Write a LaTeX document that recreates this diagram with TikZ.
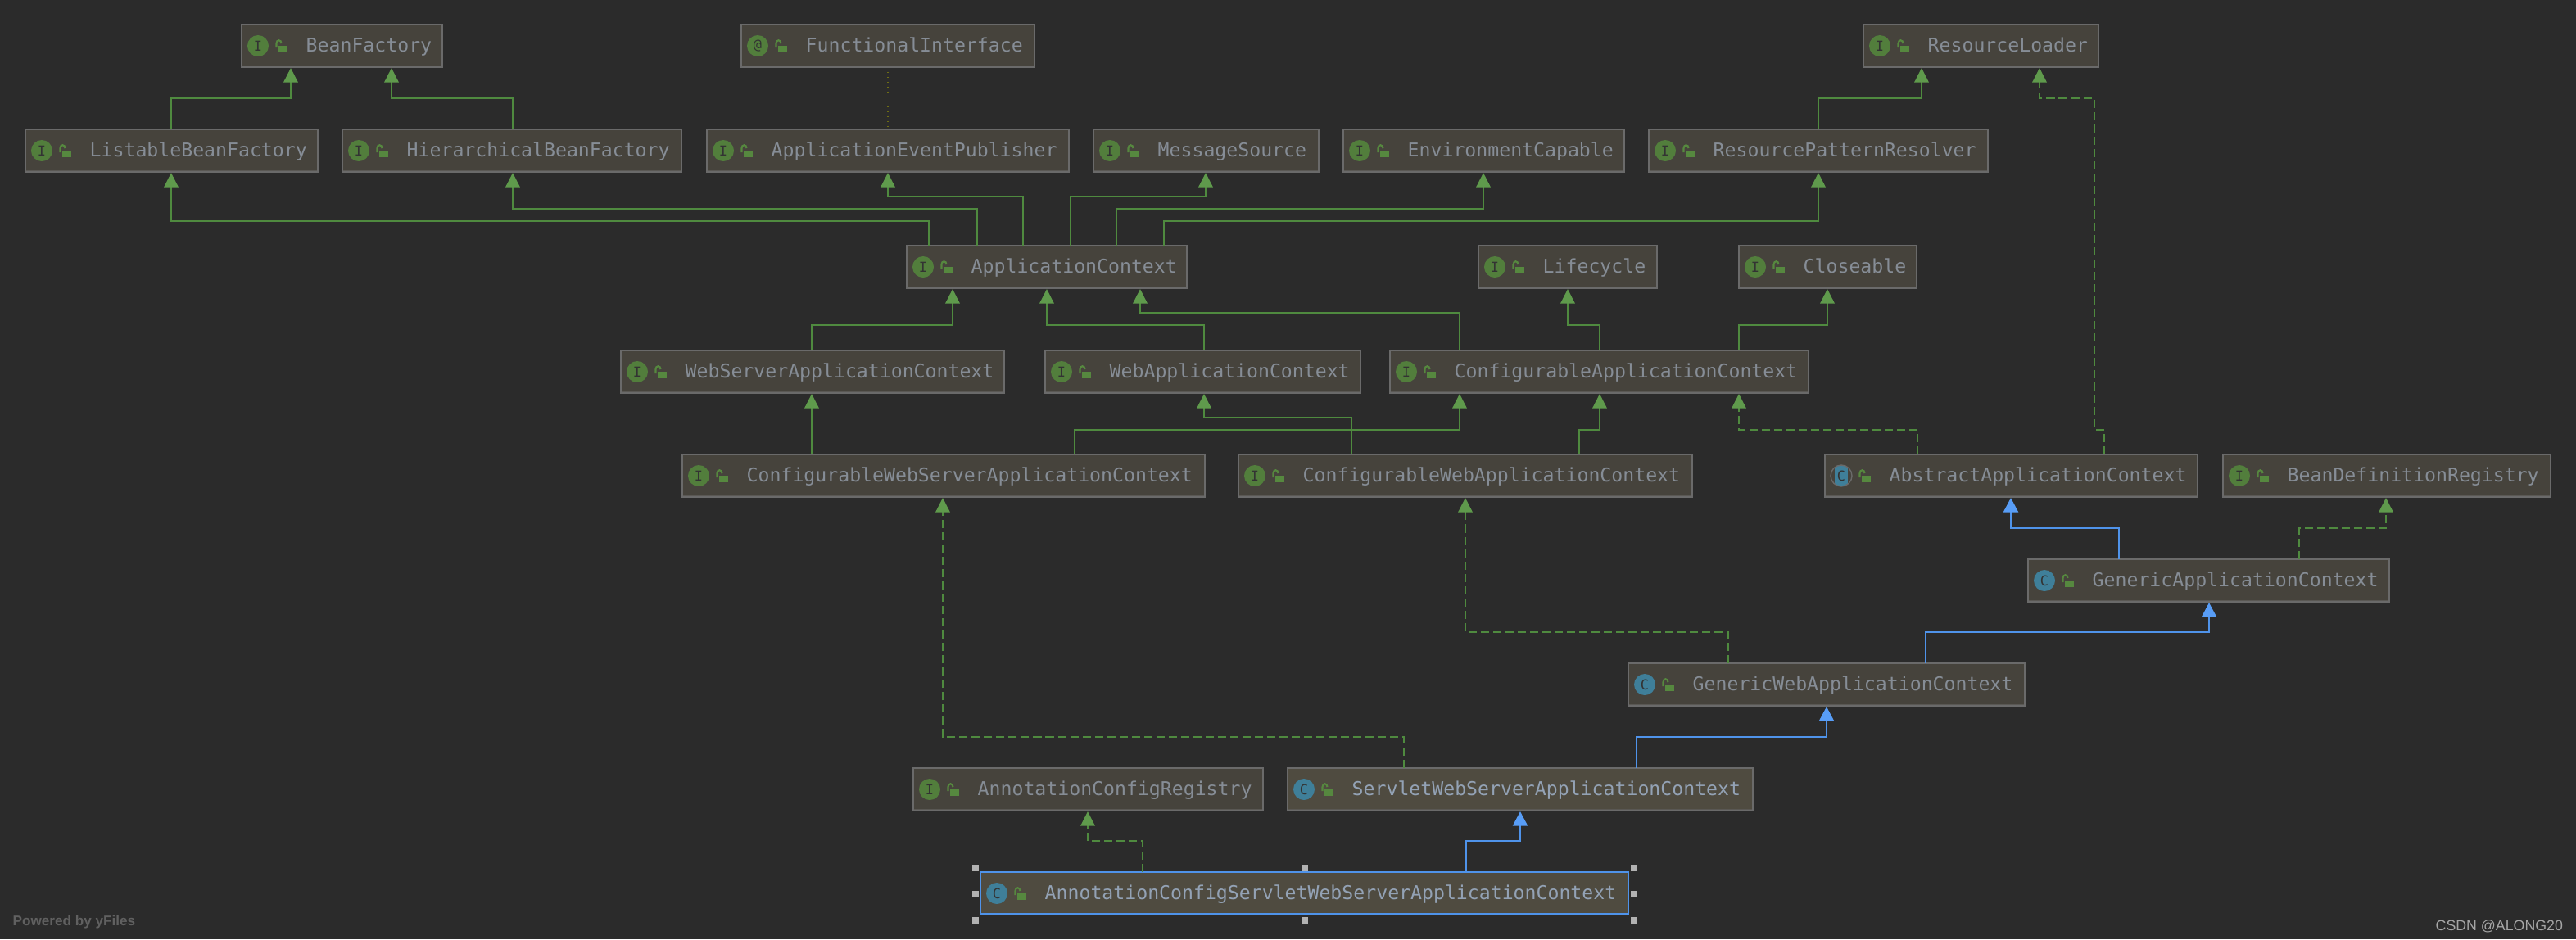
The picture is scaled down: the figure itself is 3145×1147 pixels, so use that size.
\documentclass[tikz,border=0pt]{standalone}
\usepackage{fontspec}
\setmonofont{DejaVu Sans Mono}
\setsansfont{Liberation Sans}
\usetikzlibrary{arrows.meta}

\definecolor{canvas}{HTML}{2B2B2B}
\definecolor{boxfill}{HTML}{46433C}
\definecolor{boxfilllit}{HTML}{4F4B40}
\definecolor{boxline}{HTML}{6A6A6A}
\definecolor{boxstrip}{HTML}{5A5854}
\definecolor{labelgray}{HTML}{868D96}
\definecolor{labellit}{HTML}{93A2B5}
\definecolor{ifacegreen}{HTML}{527E3C}
\definecolor{classteal}{HTML}{3F7F99}
\definecolor{lockgreen}{HTML}{56883F}
\definecolor{edgegreen}{HTML}{4F8A3F}
\definecolor{tipgreen}{HTML}{5F9A4C}
\definecolor{edgeblue}{HTML}{4F93EA}
\definecolor{tipblue}{HTML}{589DF6}
\definecolor{dotolive}{HTML}{6E6E14}

\tikzset{
    % boxes
    plainbox/.style={draw=boxline, fill=boxfill, line width=0.5pt, anchor=north west, outer sep=0pt,
        inner sep=0pt, minimum height=0.52cm, stripline=boxstrip},
    litbox/.style={plainbox, fill=boxfilllit},
    selbox/.style={plainbox, fill=boxfilllit, draw=edgeblue, line width=0.4pt, stripline=edgeblue},
    stripline/.style={path picture={
        \fill[#1] ([yshift=0.6pt]path picture bounding box.south west)
            rectangle (path picture bounding box.south east);}},
    plainlabel/.style={anchor=base west, inner sep=0pt, text=labelgray,
        font=\fontsize{6.59}{8}\selectfont\ttfamily},
    litlabel/.style={plainlabel, text=labellit},
    sellabel/.style={litlabel},
    % icons
    iconbase/.style={circle, minimum size=0.26cm, inner sep=0pt, text=black!80,
        font=\fontsize{4.8}{5}\selectfont\ttfamily},
    ifaceicon/.style={iconbase, fill=ifacegreen},
    classicon/.style={iconbase, fill=classteal},
    abstracticon/.style={iconbase, draw=boxline, fill=boxfill, path picture={
        \fill[classteal] ([xshift=-2.2pt]path picture bounding box.south)
            rectangle ([xshift=2.2pt]path picture bounding box.north);}},
    % connectors
    extends/.style={draw=edgegreen, line width=0.5pt, shorten >=0.3pt,
        -{Triangle[length=5pt, width=5pt, color=tipgreen, fill=tipgreen]}},
    implements/.style={extends, dash pattern=on 2.85pt off 1.42pt},
    bluelink/.style={draw=edgeblue, line width=0.5pt, shorten >=0.3pt,
        -{Triangle[length=5pt, width=5.2pt, color=tipblue, fill=tipblue]}},
    annotated/.style={draw=dotolive, line width=0.4pt, dash pattern=on 0.4pt off 1.3pt},
    handle/.style={fill=gray!60!white, minimum size=0.08cm, inner sep=0pt},
}

% look, name, left, top, width, icon style, icon letter, label
\newcommand{\typenode}[8][plain]{
    \begin{scope}[shift={(#3,#4)}]
        \node[#1box, minimum width=#5*0.01cm] (#2) at (0,0) {};
        \node[#6] (#2-icon) at (20,26) {#7};
        \fill[lockgreen] (45,25.5) rectangle (56,33.5);
        \draw[lockgreen, line width=0.6pt] (42.5,28) -- (42.5,23)
            .. controls (42.5,18) and (48.5,18) .. (48.5,23);
        \node[#1label] (#2-label) at (78,33) {#8};
    \end{scope}
}

\begin{document}
\begin{tikzpicture}[x=0.01cm, y=-0.01cm]
    \fill[canvas] (0,0) rectangle (3145,1147);
    \useasboundingbox (0,0) rectangle (3145,1147);

    % Top row
    \typenode{bf}{295}{30}{245}{ifaceicon}{I}{BeanFactory}
    \typenode{fi}{905}{30}{358}{ifaceicon}{@}{FunctionalInterface}
    \typenode{rl}{2275}{30}{287}{ifaceicon}{I}{ResourceLoader}

    % Second row
    \typenode{lbf}{31}{158}{357}{ifaceicon}{I}{ListableBeanFactory}
    \typenode{hbf}{418}{158}{414}{ifaceicon}{I}{HierarchicalBeanFactory}
    \typenode{aep}{863}{158}{442}{ifaceicon}{I}{ApplicationEventPublisher}
    \typenode{ms}{1335}{158}{275}{ifaceicon}{I}{MessageSource}
    \typenode{ec}{1640}{158}{343}{ifaceicon}{I}{EnvironmentCapable}
    \typenode{rpr}{2013}{158}{414}{ifaceicon}{I}{ResourcePatternResolver}

    % ApplicationContext row
    \typenode{ac}{1107}{300}{342}{ifaceicon}{I}{ApplicationContext}
    \typenode{lc}{1805}{300}{218}{ifaceicon}{I}{Lifecycle}
    \typenode{cl}{2123}{300}{217}{ifaceicon}{I}{Closeable}

    % Fourth row
    \typenode{wsac}{758}{428}{468}{ifaceicon}{I}{WebServerApplicationContext}
    \typenode{wac}{1276}{428}{385}{ifaceicon}{I}{WebApplicationContext}
    \typenode{cac}{1697}{428}{511}{ifaceicon}{I}{ConfigurableApplicationContext}

    % Fifth row
    \typenode{cwsac}{833}{555}{638}{ifaceicon}{I}{ConfigurableWebServerApplicationContext}
    \typenode{cwac}{1512}{555}{554}{ifaceicon}{I}{ConfigurableWebApplicationContext}
    \typenode{aac}{2228}{555}{455}{abstracticon}{C}{AbstractApplicationContext}
    \typenode{bdr}{2714}{555}{400}{ifaceicon}{I}{BeanDefinitionRegistry}

    % Lower classes
    \typenode{gac}{2476}{683}{441}{classicon}{C}{GenericApplicationContext}
    \typenode{gwac}{1988}{810}{484}{classicon}{C}{GenericWebApplicationContext}
    \typenode{acr}{1115}{938}{427}{ifaceicon}{I}{AnnotationConfigRegistry}
    \typenode[lit]{swsac}{1572}{938}{568}{classicon}{C}{ServletWebServerApplicationContext}
    \typenode[sel]{acswsac}{1197}{1065}{791}{classicon}{C}{AnnotationConfigServletWebServerApplicationContext}

    % Interface inheritance, top part
    \draw[extends] (lbf.north -| 209,0) |- (355,120) -- (bf.south -| 355,0);
    \draw[extends] (hbf.north -| 626,0) |- (478,120) -- (bf.south -| 478,0);
    \draw[extends] (rpr.north -| 2220,0) |- (2346,120) -- (rl.south -| 2346,0);
    \draw[annotated] ([yshift=-0.06cm]fi.south) -- ([yshift=0.03cm]aep.north);

    % ApplicationContext parents
    \draw[extends] (ac.north -| 1134,0) |- (209,270) -- (lbf.south -| 209,0);
    \draw[extends] (ac.north -| 1193,0) |- (626,255) -- (hbf.south -| 626,0);
    \draw[extends] (ac.north -| 1249,0) |- (1084,240) -- (aep.south -| 1084,0);
    \draw[extends] (ac.north -| 1307,0) |- (1472,240) -- (ms.south -| 1472,0);
    \draw[extends] (ac.north -| 1363,0) |- (1811,255) -- (ec.south -| 1811,0);
    \draw[extends] (ac.north -| 1421,0) |- (2220,270) -- (rpr.south -| 2220,0);

    % Children of ApplicationContext
    \draw[extends] (wsac.north -| 991,0) |- (1163,397) -- (ac.south -| 1163,0);
    \draw[extends] (wac.north -| 1470,0) |- (1278,397) -- (ac.south -| 1278,0);
    \draw[extends] (cac.north -| 1782,0) |- (1392,382) -- (ac.south -| 1392,0);
    \draw[extends] (cac.north -| 1953,0) |- (1914,397) -- (lc.south -| 1914,0);
    \draw[extends] (cac.north -| 2123,0) |- (2231,397) -- (cl.south -| 2231,0);

    % Configurable contexts
    \draw[extends] (cwsac.north -| 991,0) -- (wsac.south -| 991,0);
    \draw[extends] (cwsac.north -| 1312,0) |- (1782,525) -- (cac.south -| 1782,0);
    \draw[extends] (cwac.north -| 1650,0) |- (1470,510) -- (wac.south -| 1470,0);
    \draw[extends] (cwac.north -| 1928,0) |- (1953,525) -- (cac.south -| 1953,0);

    % Implemented interfaces
    \draw[implements] (aac.north -| 2341,0) |- (2123,525) -- (cac.south -| 2123,0);
    \draw[implements] (aac.north -| 2569,0) |- (2557,525) |- (2490,120) -- (rl.south -| 2490,0);
    \draw[implements] (gac.north -| 2807,0) |- (2913,645) -- (bdr.south -| 2913,0);
    \draw[implements] (gwac.north -| 2110,0) |- (1789,772) -- (cwac.south -| 1789,0);
    \draw[implements] (swsac.north -| 1714,0) |- (1151,900) -- (cwsac.south -| 1151,0);
    \draw[implements] (acswsac.north -| 1395,0) |- (1328,1027) -- (acr.south -| 1328,0);

    % Class inheritance
    \draw[bluelink] (gac.north -| 2587,0) |- (2455,645) -- (aac.south -| 2455,0);
    \draw[bluelink] (gwac.north -| 2351,0) |- (2697,772) -- (gac.south -| 2697,0);
    \draw[bluelink] (swsac.north -| 1998,0) |- (2230,900) -- (gwac.south -| 2230,0);
    \draw[bluelink] (acswsac.north -| 1790,0) |- (1856,1027) -- (swsac.south -| 1856,0);

    % Selection handles
    \foreach \hx/\hy in {1191/1060, 1593/1060, 1995/1060, 1191/1092, 1995/1092, 1191/1124, 1593/1124, 1995/1124}
        \node[handle] (handle-\hx-\hy) at (\hx,\hy) {};

    % Corner texts
    \node[anchor=base west, inner sep=0pt, text=gray!75!black, font=\fontsize{4.87}{6}\selectfont\sffamily\bfseries] (yfiles) at (15,1130) {Powered by yFiles};
    \node[anchor=base west, inner sep=0pt, text=gray!70!white, font=\fontsize{5.05}{7}\selectfont\sffamily] (csdn) at (2973,1136) {CSDN @ALONG20};
\end{tikzpicture}
\end{document}
